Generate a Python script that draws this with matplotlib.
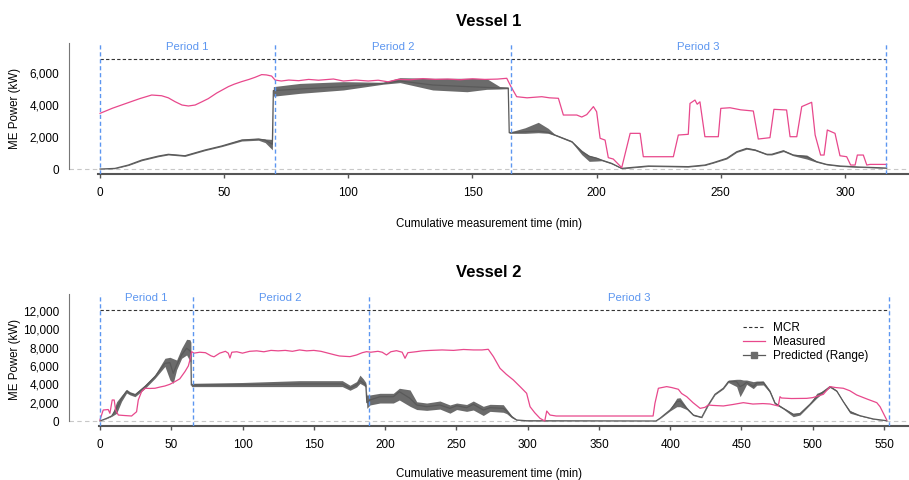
import matplotlib
matplotlib.use('Agg')
from matplotlib import pyplot as plt
from matplotlib.lines import Line2D
from matplotlib.ticker import FuncFormatter

plt.rcParams['font.family'] = ['Liberation Sans', 'DejaVu Sans']

# ---- Vessel 1 ----
v1_meas_t = [0, 5, 11.4, 16, 20.8, 24.8, 27.5, 30.2, 33, 35.6, 38.3, 41, 43.6, 47, 51.7, 54, 57, 60, 62.4,
             65.1, 67, 69.1, 70.5, 73, 76, 80, 84, 88, 94, 98, 103, 108, 112, 116, 120, 125, 130, 135, 140,
             145, 150, 155, 160, 163.8, 165.5, 167.8, 172, 177.9, 181, 184.6, 186.6, 192, 194, 196, 198.7,
             200, 201.4, 203.4, 204.7, 206.7, 210.1, 213.5, 217.5, 218.8, 230.9, 232.9, 236.9, 237.6, 239.6,
             240.5, 241.6, 243.6, 249, 250, 253.7, 258, 263.1, 265.1, 269.8, 271.4, 276.5, 277.9, 280.6,
             282.6, 286.6, 288, 290.2, 291.6, 292.9, 296, 298, 300.7, 302.3, 304.1, 305, 307.4, 308.8, 310.1,
             316.8]
v1_meas_kw = [3480, 3800, 4150, 4400, 4625, 4580, 4450, 4210, 4000, 3940, 4000, 4200, 4400, 4750, 5150, 5300,
              5460, 5600, 5730, 5900, 5880, 5810, 5560, 5500, 5560, 5520, 5600, 5550, 5625, 5500, 5560, 5500,
              5550, 5450, 5600, 5580, 5650, 5600, 5620, 5580, 5640, 5600, 5620, 5670, 5150, 4520, 4450, 4520,
              4450, 4420, 3375, 3375, 3250, 3400, 3900, 3580, 1920, 1810, 710, 625, 85, 2230, 2230, 770, 770,
              2125, 2170, 4100, 4310, 4050, 4200, 2020, 2020, 3790, 3830, 3700, 3625, 1875, 1960, 3730, 3690,
              2020, 2020, 3900, 4170, 2125, 875, 875, 2440, 2230, 830, 770, 250, 250, 875, 875, 250, 290, 290]

v1_pred_t = [0, 6, 11.4, 16.8, 23.5, 27.5, 34.2, 42.3, 49, 57.1, 63.8, 66.5, 69.4, 69.8, 80.5, 98, 114,
             120.8, 134, 147.8, 155.7, 161, 164.4, 164.8, 171.2, 176.5, 180.5, 183.2, 190, 194, 197, 200,
             202, 206, 210.1, 212.8, 220.8, 236.9, 243.6, 247, 252.4, 256.4, 260.4, 263.8, 268.5, 270.5,
             275.2, 279.2, 284.6, 288.6, 292.6, 298, 306, 314, 316.8]
v1_pred_mean = [0, 40, 250, 560, 810, 920, 830, 1190, 1440, 1810, 1875, 1810, 1550, 4900, 5000, 5150, 5350,
                5500, 5250, 5150, 5100, 5060, 5060, 2270, 2330, 2375, 2290, 2125, 1710, 1080, 800, 680, 560,
                355, 40, 80, 190, 150, 250, 400, 670, 1080, 1290, 1190, 920, 920, 1140, 875, 770, 460, 290,
                190, 125, 80, 60]
v1_pred_lo = [0, 20, 220, 520, 770, 880, 790, 1150, 1400, 1750, 1800, 1650, 1200, 4550, 4730, 4940, 5300,
              5400, 4940, 4830, 4980, 5000, 5020, 2230, 2230, 2270, 2230, 2090, 1670, 900, 480, 500, 520,
              320, 20, 50, 160, 120, 220, 370, 630, 1040, 1240, 1150, 880, 880, 1090, 830, 625, 420, 260,
              160, 100, 60, 40]
v1_pred_hi = [0, 60, 280, 600, 850, 960, 880, 1230, 1480, 1870, 1920, 1880, 1850, 5150, 5350, 5460, 5420,
              5710, 5670, 5670, 5650, 5150, 5100, 2300, 2580, 2920, 2540, 2170, 1760, 1180, 850, 720, 600,
              390, 60, 110, 220, 180, 280, 430, 710, 1120, 1340, 1240, 960, 960, 1190, 920, 875, 500, 320,
              220, 150, 100, 80]

# ---- Vessel 2 ----
v2_meas_t = [0, 2.3, 5.8, 7, 8.6, 10, 11, 12.9, 17, 22.2, 25.7, 26.9, 29.2, 31.6, 35, 38.6, 42, 45.6, 49,
             52.6, 56, 59.6, 62, 63.1, 64.3, 66, 70, 74, 78, 80, 84, 88, 90, 91.2, 92.5, 96, 100, 105, 110,
             115, 120, 125, 130, 135, 140, 145, 150, 155, 160, 165, 168, 172, 175.4, 180, 184, 187, 190, 195,
             198, 201, 204, 208, 212, 214, 216, 222, 226, 232, 240, 248, 255, 262, 268, 272.4, 276, 280.6,
             285, 290, 295, 299.3, 301.7, 305, 308.7, 312, 313.4, 315.7, 320, 388, 389.3, 391.7, 397.5, 401,
             405.7, 408, 411.6, 416, 421, 424.4, 426.7, 430, 437.3, 444, 451.3, 458, 465, 470, 475.8, 477,
             478, 485, 495.7, 500, 507.4, 512.1, 516, 521.4, 526, 530.8, 538, 544.9, 547.2, 551.9]
v2_meas_kw = [110, 1200, 1250, 840, 2290, 2290, 1200, 650, 600, 545, 1010, 2290, 3200, 3570, 3550, 3570, 3700,
              3820, 4000, 4290, 4600, 5380, 6000, 6650, 7560, 7400, 7500, 7450, 7100, 7000, 7400, 7600, 7400,
              6870, 7500, 7550, 7400, 7600, 7650, 7550, 7700, 7650, 7700, 7600, 7750, 7650, 7700, 7600, 7400,
              7200, 7090, 7050, 7020, 7200, 7450, 7560, 7500, 7600, 7500, 7200, 7550, 7670, 7500, 6840, 7450,
              7560, 7650, 7700, 7750, 7700, 7800, 7750, 7750, 7820, 7020, 5750, 5100, 4470, 3700, 3020, 1560,
              900, 290, 0, 1090, 650, 545, 545, 1930, 3570, 3750, 3650, 3460, 3000, 2650, 2000, 1380, 1490,
              1745, 1700, 1640, 1800, 2000, 1850, 1900, 1855, 1640, 2650, 2510, 2450, 2470, 2550, 2910, 3750,
              3650, 3570, 3300, 2840, 2400, 2000, 1560, 110]

v2_pred_t = [0, 4.7, 8.2, 11.7, 15.2, 18.7, 21, 24.6, 31.6, 38.6, 45.6, 49.1, 51.4, 53.8, 57.3, 60.8, 63.1,
             63.8, 64.1, 100, 140, 170, 175.4, 180, 182.4, 184.7, 186.5, 187.2, 189.4, 196.4, 205.8, 210, 217.5,
             222.2, 229.2, 238.5, 245.5, 250.2, 257.2, 261.9, 268.9, 273.6, 282.9, 285.3, 288.8, 292.3, 299.3,
             390, 392.8, 399.9, 404.6, 406.9, 411.6, 416.2, 422.1, 426.7, 431.4, 437.3, 440.8, 446.6, 449,
             451.3, 453.6, 458.3, 460.7, 465.3, 470, 473.5, 479.3, 486.3, 491, 498, 502.8, 507.4, 512.1,
             516.8, 521.4, 526.1, 533.1, 542.5, 551.9]
v2_pred_mean = [0, 290, 545, 1380, 2470, 3270, 3020, 2840, 3750, 4840, 6290, 6360, 5200, 6110, 7200, 7930,
                7670, 7400, 3920, 3950, 4040, 4040, 3570, 3930, 4400, 4150, 3930, 2000, 2290, 2650, 2650, 3200,
                2470, 1745, 1560, 1745, 1380, 1670, 1450, 1820, 1200, 1450, 1380, 1090, 470, 110, 30, 0, 290,
                1200, 2110, 2180, 1380, 650, 400, 1745, 2910, 3570, 4290, 4290, 3750, 3930, 4220, 3750, 4150,
                4220, 3200, 1930, 1380, 730, 800, 1820, 2650, 3200, 3750, 3270, 2110, 1010, 580, 220, 30]
v2_pred_lo = [0, 260, 500, 840, 2150, 3050, 2850, 2650, 3550, 4650, 5950, 4470, 4110, 5600, 6840, 7200, 6550,
              6400, 3750, 3750, 3750, 3750, 3350, 3700, 4100, 3900, 3700, 1380, 1745, 1960, 1960, 2290, 1600,
              1250, 1160, 1300, 850, 1250, 1050, 1200, 600, 1050, 950, 800, 350, 80, 10, 0, 260, 1100, 1560,
              1560, 1250, 580, 350, 1700, 2850, 3500, 4200, 3750, 2650, 3300, 4000, 3530, 3900, 3930, 3100,
              1850, 1300, 470, 650, 1750, 2500, 3100, 3650, 3200, 2050, 850, 540, 190, 10]
v2_pred_hi = [0, 320, 590, 2100, 2800, 3450, 3200, 3000, 3950, 5050, 6840, 6950, 6800, 6650, 7930, 8910,
              8870, 8600, 4110, 4200, 4400, 4400, 3900, 4300, 5000, 4600, 4200, 2840, 2840, 3020, 3020, 3570,
              3390, 2100, 1960, 2180, 1750, 1960, 1800, 2180, 1600, 1820, 1780, 1300, 600, 150, 50, 0, 320,
              1300, 2490, 2540, 1500, 720, 450, 1800, 2970, 3650, 4470, 4550, 4550, 4470, 4470, 4290, 4360,
              4360, 3350, 2050, 1460, 800, 900, 1900, 3020, 3300, 3850, 3340, 2170, 1150, 620, 250, 50]

v1_periods = [0, 70.5, 165.5, 316.5]
v2_periods = [0, 65, 188.5, 553.5]
v1_mcr = 6900
v2_mcr = 12100
period_names = ['Period 1', 'Period 2', 'Period 3']

pink = '#e8488c'
blue = '#5c96f0'
dark = '#5a5a5a'
band = '#6b6b6b'

fig = plt.figure(figsize=(9.09, 4.8), dpi=100)


def panel(ax, title, periods, mcr, mt, mkw, pt, pm, plo, phi, xlim, ylim, xticks, yticks, xlab_y):
    ax.fill_between(pt, plo, phi, color=band, lw=0, zorder=2)
    ax.plot(pt, pm, color=dark, lw=0.9, zorder=3)
    ax.plot(mt, mkw, color=pink, lw=0.9, zorder=4)
    ax.plot([periods[0], periods[-1]], [mcr, mcr], color='#333333', ls=(0, (3, 2)), lw=0.8)
    ax.axhline(0, color='#c8c8c8', ls=(0, (4, 3)), lw=0.8, zorder=1)
    for p in periods:
        ax.axvline(p, color=blue, ls=(0, (3, 2)), lw=1.0, zorder=5)
    for i in range(3):
        ax.text((periods[i] + periods[i + 1]) / 2, ylim[1] * 0.965, period_names[i], color=blue,
                ha='center', va='center', fontsize=8.2)
    ax.set_xlim(xlim)
    ax.set_ylim(ylim)
    ax.set_xticks(xticks)
    ax.set_yticks(yticks)
    ax.yaxis.set_major_formatter(FuncFormatter(lambda v, pos: '{:,.0f}'.format(v)))
    for s in ['top', 'right']:
        ax.spines[s].set_visible(False)
    ax.spines['left'].set_bounds(0, ylim[1])
    ax.spines['bottom'].set_bounds(-1, xlim[1])
    ax.spines['left'].set_color('#777777')
    ax.spines['bottom'].set_color('#555555')
    ax.spines['bottom'].set_linewidth(1.5)
    ax.tick_params(axis='x', length=3, width=1, color='#555555', labelsize=8.5, pad=6)
    ax.tick_params(axis='y', length=0, labelsize=8.5, pad=7)
    ax.set_title(title, fontsize=12, fontweight='bold', pad=12)
    ax.set_xlabel('Cumulative measurement time (min)', fontsize=8.3)
    ax.xaxis.set_label_coords(0.5, xlab_y)
    ax.set_ylabel('ME Power (kW)', fontsize=8.3)
    ax.yaxis.set_label_coords(-0.057, 0.5)


ax1 = fig.add_axes([69 / 909, 1 - 174 / 480, 840 / 909, 131 / 480])
panel(ax1, 'Vessel 1', v1_periods, v1_mcr, v1_meas_t, v1_meas_kw, v1_pred_t, v1_pred_mean, v1_pred_lo,
      v1_pred_hi, (-12.5, 325.8), (-310, 7875), range(0, 301, 50), range(0, 6001, 2000), -0.336)

ax2 = fig.add_axes([69 / 909, 1 - 426 / 480, 840 / 909, 132 / 480])
panel(ax2, 'Vessel 2', v2_periods, v2_mcr, v2_meas_t, v2_meas_kw, v2_pred_t, v2_pred_mean, v2_pred_lo,
      v2_pred_hi, (-21.7, 567.5), (-545, 13850), range(0, 551, 50), range(0, 12001, 2000), -0.318)

handles = [Line2D([], [], color='#333333', ls=(0, (3, 2)), lw=0.8),
           Line2D([], [], color=pink, lw=0.9),
           Line2D([], [], color=dark, lw=0.9, marker='s', markersize=5, markerfacecolor=band,
                  markeredgecolor=band)]
ax2.legend(handles, ['MCR', 'Measured', 'Predicted (Range)'], loc='upper left',
           bbox_to_anchor=(0.795, 0.835), frameon=False, fontsize=8.5, handlelength=1.9,
           handletextpad=0.7, labelspacing=0.2, borderpad=0)

fig.savefig('out.png', dpi=100)
